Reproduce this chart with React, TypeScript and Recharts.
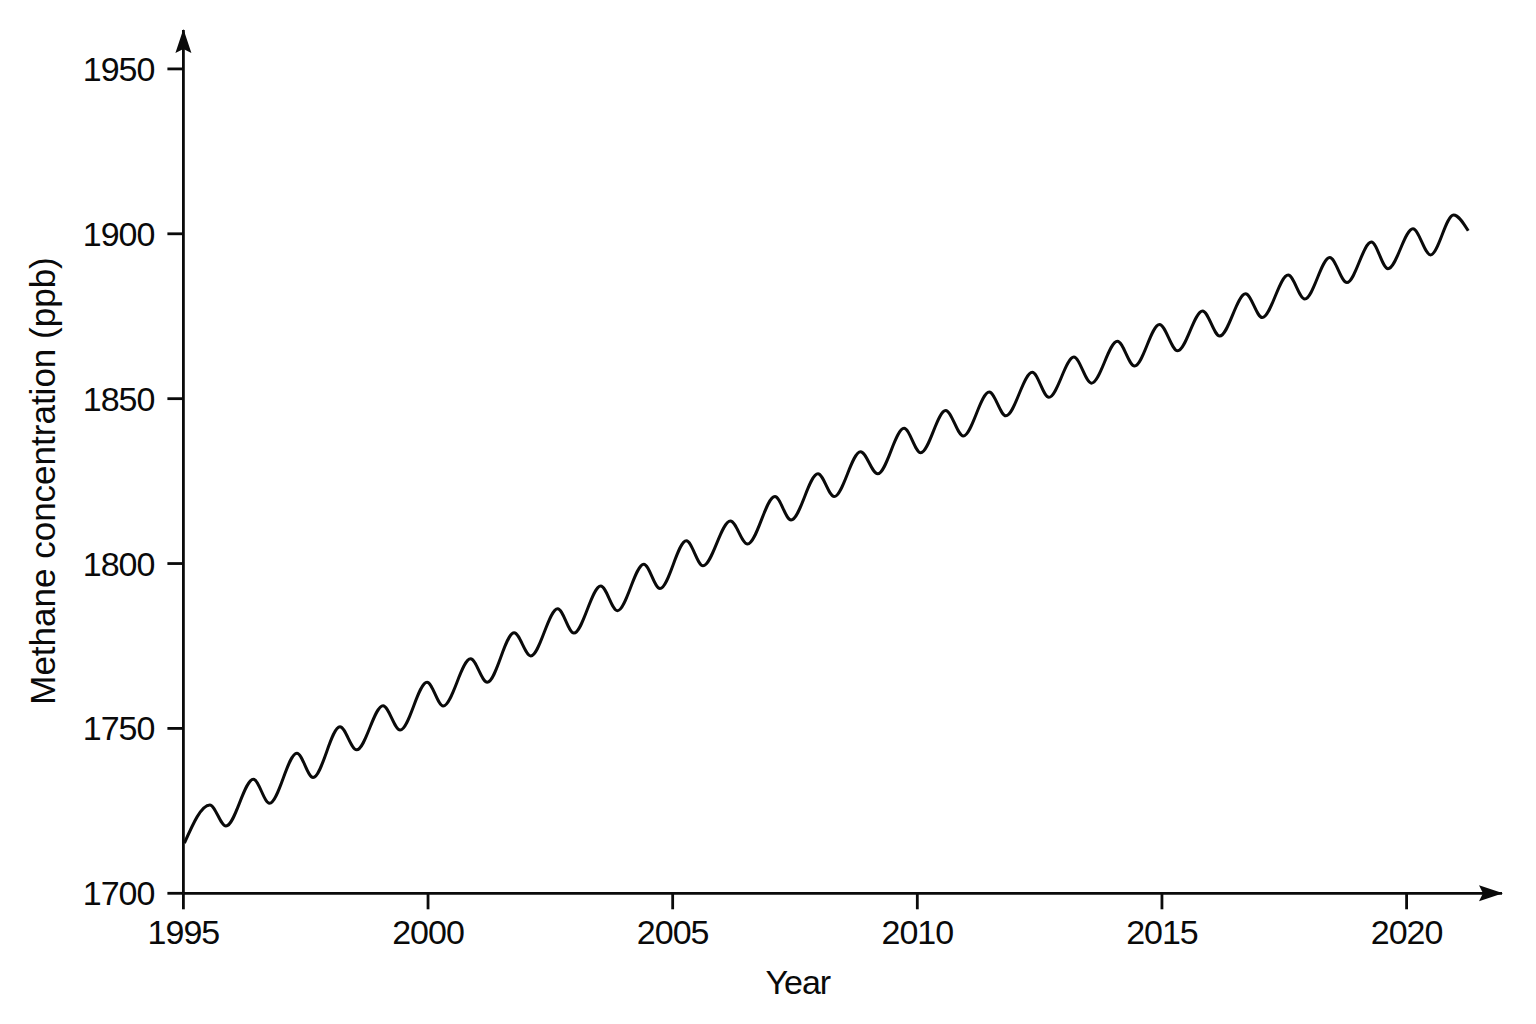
import { LineChart, Line, XAxis, YAxis } from 'recharts';

// peaks and troughs of the seasonal cycle
const years = [
  1995.02, 1995.54, 1995.87, 1996.43, 1996.76, 1997.32, 1997.65, 1998.2, 1998.54,
  1999.08, 1999.43, 1999.98, 2000.31, 2000.87, 2001.21, 2001.76, 2002.1, 2002.65,
  2002.98, 2003.53, 2003.87, 2004.41, 2004.74, 2005.28, 2005.62, 2006.18, 2006.53,
  2007.09, 2007.42, 2007.97, 2008.3, 2008.84, 2009.19, 2009.73, 2010.07, 2010.58,
  2010.94, 2011.47, 2011.81, 2012.35, 2012.69, 2013.2, 2013.56, 2014.09, 2014.44,
  2014.95, 2015.32, 2015.83, 2016.18, 2016.71, 2017.05, 2017.58, 2017.92, 2018.43,
  2018.78, 2019.28, 2019.62, 2020.13, 2020.49, 2020.96, 2021.26,
];

const methane = [
  1715.2, 1726.8, 1720.4, 1734.6, 1727.3, 1742.5, 1735.1, 1750.5, 1743.5,
  1756.9, 1749.5, 1764.0, 1756.8, 1771.1, 1764.0, 1779.0, 1772.0, 1786.3,
  1778.9, 1793.2, 1785.7, 1799.8, 1792.4, 1806.9, 1799.3, 1812.9, 1805.9,
  1820.3, 1813.2, 1827.2, 1820.3, 1833.9, 1827.2, 1841.0, 1833.6, 1846.4,
  1838.7, 1852.0, 1844.8, 1858.0, 1850.4, 1862.6, 1854.7, 1867.4, 1859.9,
  1872.5, 1864.5, 1876.6, 1869.0, 1881.8, 1874.6, 1887.5, 1880.2, 1892.8,
  1885.2, 1897.5, 1889.4, 1901.5, 1893.6, 1905.7, 1900.9,
];

const yearTicks = [1995, 2000, 2005, 2010, 2015, 2020];
const ppbTicks = [1700, 1750, 1800, 1850, 1900, 1950];

const data = years.map((year, i) => ({ year, ppb: methane[i] }));

const FONT = '"Liberation Sans", Arial, Helvetica, sans-serif';
const INK = '#0a0a0a';

const tickStyle = { fill: INK, fontSize: 34, fontFamily: FONT, letterSpacing: -1 };

function YTitle(props: any) {
  const vb = props.viewBox;
  const x = vb.x - 18.4;
  const y = 473;
  return (
    <text
      x={x}
      y={y}
      transform={`rotate(-90, ${x}, ${y})`}
      textAnchor="middle"
      fontSize={35}
      fontFamily={FONT}
      fill={INK}
    >
      Methane concentration (ppb)
    </text>
  );
}

function XTitle(props: any) {
  const vb = props.viewBox;
  return (
    <text
      x={vb.x + 614.4}
      y={vb.y + 100.7}
      textAnchor="middle"
      fontSize={34}
      fontFamily={FONT}
      letterSpacing={-1}
      fill={INK}
    >
      Year
    </text>
  );
}

export default function App() {
  return (
    <div style={{ width: 1520, height: 1008, background: '#fff' }}>
      <svg width="0" height="0" style={{ position: 'absolute' }}>
        <defs>
          <marker
            id="axisArrow"
            markerUnits="userSpaceOnUse"
            viewBox="0 0 24 18"
            markerWidth="24"
            markerHeight="18"
            refX="23"
            refY="9"
            orient="auto-start-reverse"
          >
            <path d="M0,1 L24,9 L0,17 L4,9 Z" fill={INK} />
          </marker>
        </defs>
      </svg>
      <LineChart
        width={1520}
        height={1008}
        data={data}
        margin={{ top: 22, right: 26, left: 65.4, bottom: 22.7 }}
      >
        <XAxis
          dataKey="year"
          type="number"
          domain={[1995, 2021.95]}
          ticks={yearTicks}
          interval={0}
          tickSize={16}
          tickMargin={11}
          height={100}
          axisLine={{ stroke: INK, strokeWidth: 2.8, markerEnd: 'url(#axisArrow)' }}
          tickLine={{ stroke: INK, strokeWidth: 2.8 }}
          tick={tickStyle}
          label={<XTitle />}
        />
        <YAxis
          type="number"
          domain={[1700, 1961.8]}
          ticks={ppbTicks}
          interval={0}
          tickSize={16}
          tickMargin={13}
          width={110}
          axisLine={{ stroke: INK, strokeWidth: 2.8, markerStart: 'url(#axisArrow)' }}
          tickLine={{ stroke: INK, strokeWidth: 2.8 }}
          tick={tickStyle}
          label={<YTitle />}
        />
        <Line
          type="monotone"
          dataKey="ppb"
          stroke={INK}
          strokeWidth={3}
          dot={false}
          activeDot={false}
          isAnimationActive={false}
        />
      </LineChart>
    </div>
  );
}
